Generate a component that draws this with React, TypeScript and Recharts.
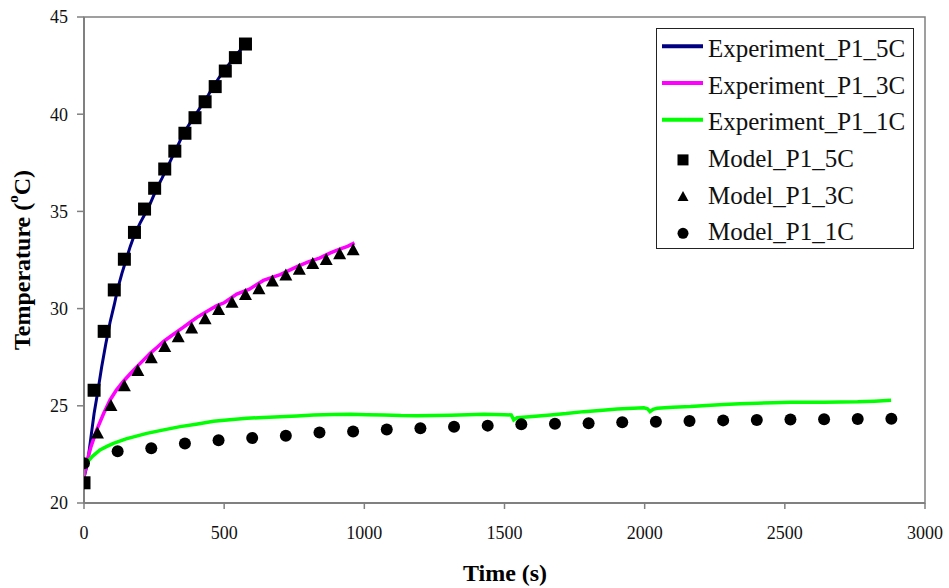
import React from "react";
import {
  ComposedChart,
  Line,
  Scatter,
  XAxis,
  YAxis,
  Legend,
  ReferenceArea,
} from "recharts";

// ---------- data ----------
const xTicks = [0, 500, 1000, 1500, 2000, 2500, 3000];
const yTicks = [20, 25, 30, 35, 40, 45];

const exp5cTime = [0, 12, 24, 36, 50, 63, 78, 93, 108, 120, 135, 150, 165, 180, 200, 215, 230, 245, 260, 278, 295, 310, 325, 340, 354, 372, 390, 408, 427, 444, 460, 478, 497, 516, 535, 555, 575];
const exp5cTemp = [21.3, 22.0, 23.3, 24.6, 25.8, 27.0, 28.2, 29.3, 30.2, 31.0, 31.8, 32.5, 33.2, 33.8, 34.4, 34.8, 35.2, 35.7, 36.2, 36.7, 37.2, 37.65, 38.1, 38.55, 39.0, 39.4, 39.8, 40.2, 40.6, 41.0, 41.4, 41.8, 42.2, 42.55, 42.9, 43.25, 43.6];

const exp3cTime = [0, 12, 25, 45, 70, 93, 115, 140, 165, 188, 212, 236, 260, 283, 307, 331, 355, 379, 403, 426, 450, 474, 500, 545, 590, 640, 700, 758, 800, 840, 877, 910, 940, 965];
const exp3cTemp = [21.35, 22.2, 22.9, 23.75, 24.6, 25.3, 25.8, 26.25, 26.65, 27.0, 27.35, 27.7, 28.0, 28.3, 28.55, 28.8, 29.05, 29.3, 29.55, 29.75, 29.95, 30.15, 30.3, 30.75, 31.0, 31.45, 31.75, 32.15, 32.4, 32.6, 32.85, 33.05, 33.2, 33.38];

const exp1cTime = [0, 15, 30, 57, 80, 105, 150, 224, 280, 343, 400, 462, 520, 581, 640, 700, 760, 819, 890, 950, 1010, 1069, 1130, 1188, 1250, 1307, 1370, 1426, 1500, 1524, 1533, 1545, 1600, 1664, 1720, 1783, 1840, 1902, 1960, 1997, 2010, 2019, 2030, 2045, 2100, 2164, 2220, 2283, 2340, 2402, 2460, 2521, 2580, 2640, 2700, 2760, 2820, 2879];
const exp1cTemp = [22.0, 22.15, 22.4, 22.73, 22.9, 23.07, 23.3, 23.58, 23.75, 23.93, 24.05, 24.2, 24.28, 24.36, 24.4, 24.44, 24.48, 24.53, 24.55, 24.56, 24.54, 24.53, 24.5, 24.49, 24.5, 24.52, 24.54, 24.56, 24.54, 24.53, 24.27, 24.39, 24.45, 24.53, 24.6, 24.7, 24.76, 24.84, 24.88, 24.9, 24.85, 24.7, 24.82, 24.87, 24.92, 24.96, 25.02, 25.07, 25.1, 25.13, 25.16, 25.18, 25.18, 25.18, 25.2, 25.21, 25.24, 25.28];

const model5cTime = [0, 36, 72, 108, 144, 180, 216, 252, 288, 324, 360, 396, 432, 468, 504, 540, 576];
const model5cTemp = [21.04, 25.8, 28.83, 30.96, 32.54, 33.92, 35.12, 36.19, 37.18, 38.1, 39.02, 39.82, 40.64, 41.42, 42.22, 42.91, 43.61];

const model3cTime = [48, 96, 144, 192, 240, 288, 336, 384, 432, 480, 528, 576, 624, 672, 720, 768, 816, 864, 912, 960];
const model3cTemp = [23.58, 24.99, 26.0, 26.79, 27.44, 28.02, 28.52, 28.97, 29.45, 29.93, 30.3, 30.7, 31.0, 31.4, 31.7, 32.0, 32.3, 32.5, 32.8, 33.0];

const model1cTime = [0, 120, 240, 360, 480, 600, 720, 840, 960, 1080, 1200, 1320, 1440, 1560, 1680, 1800, 1920, 2040, 2160, 2280, 2400, 2520, 2640, 2760, 2880];
const model1cTemp = [22.04, 22.66, 22.82, 23.06, 23.23, 23.34, 23.46, 23.63, 23.68, 23.78, 23.84, 23.92, 23.98, 24.05, 24.08, 24.1, 24.15, 24.18, 24.22, 24.25, 24.27, 24.3, 24.31, 24.32, 24.33];

const seriesNames = [
  "Experiment_P1_5C",
  "Experiment_P1_3C",
  "Experiment_P1_1C",
  "Model_P1_5C",
  "Model_P1_3C",
  "Model_P1_1C",
];

const toPoints = (t: number[], v: number[]) => t.map((x, i) => ({ t: x, T: v[i] }));

const exp5c = toPoints(exp5cTime, exp5cTemp);
const exp3c = toPoints(exp3cTime, exp3cTemp);
const exp1c = toPoints(exp1cTime, exp1cTemp);
const model5c = toPoints(model5cTime, model5cTemp);
const model3c = toPoints(model3cTime, model3cTemp);
const model1c = toPoints(model1cTime, model1cTemp);

// ---------- styles ----------
const SERIF = '"Liberation Serif", "Times New Roman", serif';
const NAVY = "#000080";
const MAGENTA = "#FF00FF";
const LIME = "#00FF00";
const AXIS = "#808080";

const SquareShape = (p: any) => (
  <rect x={p.cx - 6.5} y={p.cy - 6.5} width={13} height={13} fill="#000" />
);
const TriangleShape = (p: any) => (
  <polygon
    points={`${p.cx},${p.cy - 7} ${p.cx + 6.5},${p.cy + 5} ${p.cx - 6.5},${p.cy + 5}`}
    fill="#000"
  />
);
const CircleShape = (p: any) => <circle cx={p.cx} cy={p.cy} r={6} fill="#000" />;

const LegendBox = () => {
  const rowY = [20.3, 57, 93.7, 130.4, 167, 203.8];
  const colors = [NAVY, MAGENTA, LIME];
  return (
    <svg width={259} height={222} style={{ display: "block" }}>
      <rect x={0.5} y={0.5} width={257} height={220} fill="#fff" stroke="#222" strokeWidth={1} />
      {seriesNames.map((name, i) => {
        const y = rowY[i];
        let sym: any = null;
        if (i < 3) {
          sym = <line x1={6} x2={47} y1={y - 2} y2={y - 2} stroke={colors[i]} strokeWidth={4} />;
        } else if (i === 3) {
          sym = <rect x={21.5} y={y - 4} width={11} height={11} fill="#000" />;
        } else if (i === 4) {
          sym = <polygon points={`27,${y - 4} 32.5,${y + 6} 21.5,${y + 6}`} fill="#000" />;
        } else {
          sym = <circle cx={27} cy={y + 1.5} r={5.5} fill="#000" />;
        }
        return (
          <g key={name}>
            {sym}
            <text x={52} y={y + 8.5} fontFamily={SERIF} fontSize={25} fill="#111">
              {name}
            </text>
          </g>
        );
      })}
    </svg>
  );
};

const YTitle = () => (
  <text
    x={22}
    y={260}
    transform="rotate(-90, 22, 260)"
    textAnchor="middle"
    dominantBaseline="central"
    fontFamily={SERIF}
    fontWeight="bold"
    fontSize={24}
    fill="#000"
  >
    Temperature (
    <tspan fontSize={15} dy={-9}>o</tspan>
    <tspan dy={9}>C)</tspan>
  </text>
);

const XTitle = () => (
  <text
    x={505}
    y={573}
    textAnchor="middle"
    dominantBaseline="central"
    fontFamily={SERIF}
    fontWeight="bold"
    fontSize={24}
    fill="#000"
  >
    Time (s)
  </text>
);

export default function App() {
  return (
    <div style={{ position: "absolute", left: 0, top: 0, width: 949, height: 588, background: "#fff" }}>
      <ComposedChart
        width={949}
        height={588}
        margin={{ top: 17, right: 24, bottom: 25, left: 0 }}
      >
        <ReferenceArea
          x1={0}
          x2={3000}
          y1={20}
          y2={45}
          fill="none"
          stroke={AXIS}
          strokeWidth={1.5}
        />
        <XAxis
          type="number"
          dataKey="t"
          domain={[0, 3000]}
          ticks={xTicks}
          allowDataOverflow
          height={60}
          axisLine={{ stroke: AXIS, strokeWidth: 2 }}
          tickLine={{ stroke: AXIS, strokeWidth: 1.5 }}
          tickSize={6}
          tickMargin={17}
          tick={{ fontFamily: SERIF, fontSize: 18, fill: "#111" }}
          label={{ content: () => <XTitle /> }}
        />
        <YAxis
          type="number"
          dataKey="T"
          domain={[20, 45]}
          ticks={yTicks}
          allowDataOverflow
          width={84}
          axisLine={{ stroke: AXIS, strokeWidth: 2 }}
          tickLine={{ stroke: AXIS, strokeWidth: 1.5 }}
          tickSize={7}
          tickMargin={9}
          tick={{ fontFamily: SERIF, fontSize: 18, fill: "#111" }}
          label={{ content: () => <YTitle /> }}
        />
        <Line data={exp5c} dataKey="T" name={seriesNames[0]} type="linear" stroke={NAVY} strokeWidth={3} dot={false} activeDot={false} isAnimationActive={false} />
        <Line data={exp3c} dataKey="T" name={seriesNames[1]} type="linear" stroke={MAGENTA} strokeWidth={3.5} dot={false} activeDot={false} isAnimationActive={false} />
        <Line data={exp1c} dataKey="T" name={seriesNames[2]} type="linear" stroke={LIME} strokeWidth={3.5} dot={false} activeDot={false} isAnimationActive={false} />
        <Scatter data={model5c} dataKey="T" name={seriesNames[3]} shape={SquareShape} isAnimationActive={false} />
        <Scatter data={model3c} dataKey="T" name={seriesNames[4]} shape={TriangleShape} isAnimationActive={false} />
        <Scatter data={model1c} dataKey="T" name={seriesNames[5]} shape={CircleShape} isAnimationActive={false} />
        <Legend
          layout="vertical"
          align="center"
          verticalAlign="middle"
          content={() => <LegendBox />}
          wrapperStyle={{ position: "absolute", left: 656, top: 28, width: 259, height: 222 }}
        />
      </ComposedChart>
    </div>
  );
}
